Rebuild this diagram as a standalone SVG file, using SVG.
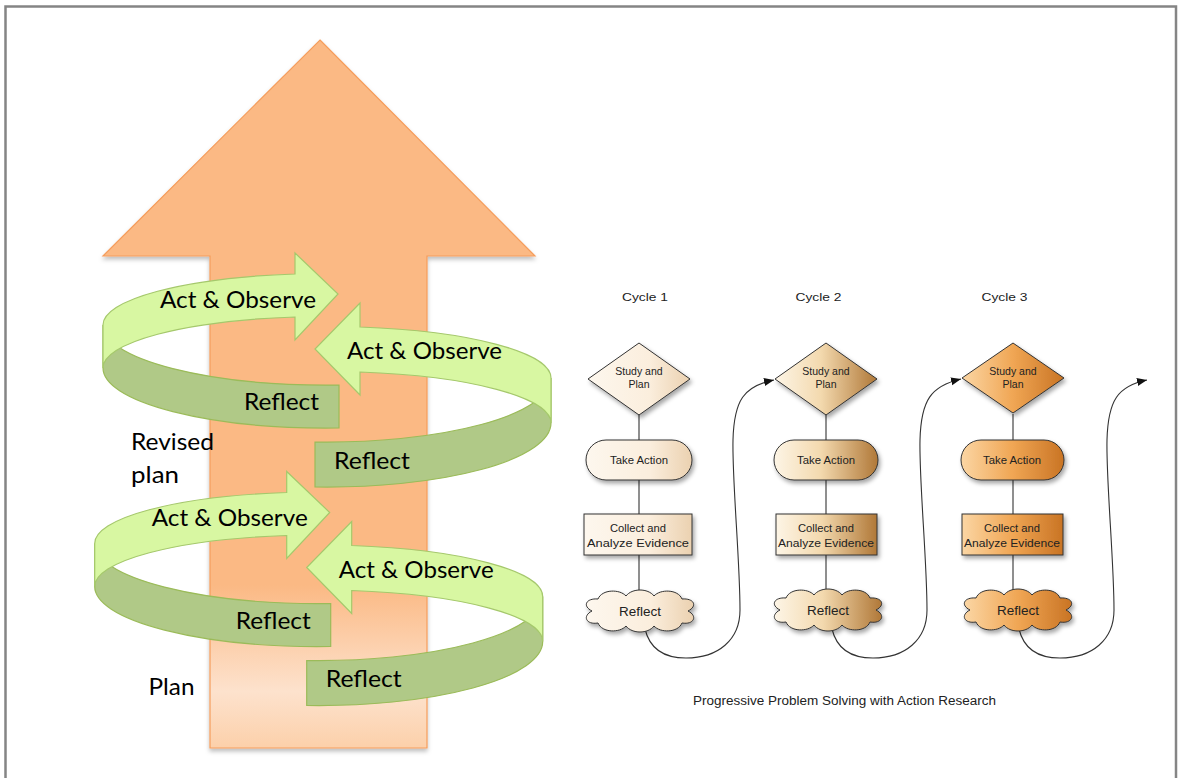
<svg xmlns="http://www.w3.org/2000/svg" width="1183" height="778" viewBox="0 0 1183 778">
<defs>
<style>
.lt{fill:#d8f7a2;stroke:#a5c86c;stroke-width:1.2}
.dk{fill:#b0c987;stroke:#9bbb59;stroke-width:1.2}
.gt{font-family:Lato,"Open Sans","Liberation Sans",sans-serif;font-size:23px;fill:#000}
.ft{font-family:"Liberation Sans",Arial,sans-serif;fill:#222;text-anchor:middle}
.st{stroke:#333;stroke-width:1;}
.ln{stroke:#333;stroke-width:1.1;fill:none}
</style>
<linearGradient id="ag" gradientUnits="userSpaceOnUse" x1="0" y1="40" x2="0" y2="748">
<stop offset="0" stop-color="#fbb984"/>
<stop offset="0.77" stop-color="#fbb984"/>
<stop offset="0.92" stop-color="#fde2cd"/>
<stop offset="1" stop-color="#fcd0aa"/>
</linearGradient>
<linearGradient id="g1" x1="0" y1="0" x2="1" y2="0">
<stop offset="0" stop-color="#fdf7ee"/>
<stop offset="0.6" stop-color="#fbeedd"/>
<stop offset="1" stop-color="#ebd1b0"/>
</linearGradient>
<linearGradient id="g2" x1="0" y1="0" x2="1" y2="0">
<stop offset="0" stop-color="#fdf5e6"/>
<stop offset="0.45" stop-color="#f3d9ae"/>
<stop offset="1" stop-color="#b07838"/>
</linearGradient>
<linearGradient id="g3" x1="0" y1="0" x2="1" y2="0">
<stop offset="0" stop-color="#fbd6a4"/>
<stop offset="0.5" stop-color="#f0a654"/>
<stop offset="1" stop-color="#c97424"/>
</linearGradient>
<filter id="sh" x="-20%" y="-20%" width="150%" height="160%">
<feDropShadow dx="2" dy="3" stdDeviation="2.2" flood-color="#000" flood-opacity="0.35"/>
</filter>
<filter id="ash" x="-10%" y="-5%" width="120%" height="110%">
<feDropShadow dx="0" dy="3" stdDeviation="2" flood-color="#000" flood-opacity="0.25"/>
</filter>
<marker id="ah" markerUnits="userSpaceOnUse" markerWidth="12" markerHeight="10" refX="10" refY="4" orient="auto">
<path d="M0,0 L10,4 L0,8 Z" fill="#111"/>
</marker>
<path id="cloud" d="M -42 -12 C -38 -22 -20 -22 -14 -15 C -8 -23 8 -23 14 -15 C 20 -22 38 -22 42 -12 C 54 -13 58 -5 48 0 C 58 5 54 14 42 12 C 38 22 20 22 14 15 C 8 23 -8 23 -14 15 C -20 22 -38 22 -42 12 C -54 14 -58 5 -48 0 C -58 -5 -54 -13 -42 -12 Z"/>
</defs>

<rect x="0" y="0" width="1183" height="778" fill="#ffffff"/>
<rect id="frame" x="5.5" y="6.5" width="1170.5" height="800" fill="none" stroke="#858585" stroke-width="2.5"/>

<g id="big-arrow">
<path d="M 320 40 L 535 256 L 427 256 L 427 748 L 210 748 L 210 256 L 103 256 Z" fill="url(#ag)" stroke="#f59d5c" stroke-width="1.2" filter="url(#ash)"/>
</g>

<g id="spiral-upper">
<g id="reflect-upper-left">
<path class="dk" d="M 103 325 A 224 60 0 0 0 339 385 L 339 428 A 224 60 0 0 1 103 368 Z"/>
<text class="gt" x="244" y="410" textLength="75" lengthAdjust="spacingAndGlyphs">Reflect</text>
</g>
<g id="act-upper-left">
<path class="lt" d="M 295 274 A 224 51.5 0 0 0 103 325 L 103 368 A 224 51.5 0 0 1 295 317 L 295 340 L 338 294 L 295 253 Z"/>
<text class="gt" x="160" y="307.5" textLength="156" lengthAdjust="spacingAndGlyphs">Act &amp; Observe</text>
</g>
<g id="reflect-upper-right">
<path class="dk" d="M 551 378 A 224 64 0 0 1 315 442 L 315 487 A 224 64 0 0 0 551 423 Z"/>
<text class="gt" x="334" y="468.5" textLength="76" lengthAdjust="spacingAndGlyphs">Reflect</text>
</g>
<g id="act-upper-right">
<path class="lt" d="M 360 327 A 224 51.6 0 0 1 551 378 L 551 423 A 224 51.6 0 0 0 360 372 L 360 395 L 315 349 L 360 303 Z"/>
<text class="gt" x="347" y="359" textLength="155" lengthAdjust="spacingAndGlyphs">Act &amp; Observe</text>
</g>
</g>

<g id="spiral-lower" transform="translate(-8.3,218.5)">
<g id="reflect-lower-left">
<path class="dk" d="M 103 325 A 224 60 0 0 0 339 385 L 339 428 A 224 60 0 0 1 103 368 Z"/>
<text class="gt" x="244" y="410" textLength="75" lengthAdjust="spacingAndGlyphs">Reflect</text>
</g>
<g id="act-lower-left">
<path class="lt" d="M 295 274 A 224 51.5 0 0 0 103 325 L 103 368 A 224 51.5 0 0 1 295 317 L 295 340 L 338 294 L 295 253 Z"/>
<text class="gt" x="160" y="307.5" textLength="156" lengthAdjust="spacingAndGlyphs">Act &amp; Observe</text>
</g>
<g id="reflect-lower-right">
<path class="dk" d="M 551 378 A 224 64 0 0 1 315 442 L 315 487 A 224 64 0 0 0 551 423 Z"/>
<text class="gt" x="334" y="468.5" textLength="76" lengthAdjust="spacingAndGlyphs">Reflect</text>
</g>
<g id="act-lower-right">
<path class="lt" d="M 360 327 A 224 51.6 0 0 1 551 378 L 551 423 A 224 51.6 0 0 0 360 372 L 360 395 L 315 349 L 360 303 Z"/>
<text class="gt" x="347" y="359" textLength="155" lengthAdjust="spacingAndGlyphs">Act &amp; Observe</text>
</g>
</g>

<g id="label-revised-plan">
<text class="gt" x="131" y="450" textLength="83" lengthAdjust="spacingAndGlyphs">Revised</text>
<text class="gt" x="131" y="482.5" textLength="48" lengthAdjust="spacingAndGlyphs">plan</text>
</g>
<g id="label-plan">
<text class="gt" x="148.5" y="695" textLength="46" lengthAdjust="spacingAndGlyphs">Plan</text>
</g>

<g id="connectors">
<line class="ln" x1="639" y1="414" x2="639" y2="440"/>
<line class="ln" x1="639" y1="480" x2="639" y2="514"/>
<line class="ln" x1="639" y1="555" x2="639" y2="594"/>
<line class="ln" x1="826" y1="414" x2="826" y2="440"/>
<line class="ln" x1="826" y1="480" x2="826" y2="514"/>
<line class="ln" x1="826" y1="555" x2="826" y2="594"/>
<line class="ln" x1="1013" y1="414" x2="1013" y2="440"/>
<line class="ln" x1="1013" y1="480" x2="1013" y2="514"/>
<line class="ln" x1="1013" y1="555" x2="1013" y2="594"/>
<path class="ln" marker-end="url(#ah)" d="M 645 629 C 650 650, 666 658, 686 658 C 718 658, 740 640, 740 610 C 740 560, 732 480, 733 440 C 734 400, 744 386, 774 380"/>
<path class="ln" marker-end="url(#ah)" d="M 832 629 C 837 650, 853 658, 873 658 C 905 658, 927 640, 927 610 C 927 560, 919 480, 920 440 C 921 400, 931 386, 961 379"/>
<path class="ln" marker-end="url(#ah)" d="M 1019 629 C 1024 650, 1040 658, 1060 658 C 1092 658, 1114 640, 1114 610 C 1114 560, 1106 480, 1107 440 C 1108 400, 1118 386, 1147 380"/>
</g>

<g id="cycle1-label"><text class="ft" x="645" y="300.5" font-size="11.5" textLength="46" lengthAdjust="spacingAndGlyphs">Cycle 1</text></g>
<g id="cycle2-label"><text class="ft" x="818.5" y="300.5" font-size="11.5" textLength="46" lengthAdjust="spacingAndGlyphs">Cycle 2</text></g>
<g id="cycle3-label"><text class="ft" x="1004.5" y="300.5" font-size="11.5" textLength="46" lengthAdjust="spacingAndGlyphs">Cycle 3</text></g>

<g id="c1-study">
<path class="st" fill="url(#g1)" filter="url(#sh)" d="M 639 343 L 690 379 L 639 415 L 588 379 Z"/>
<text class="ft" x="639" y="375" font-size="10.5">Study and</text>
<text class="ft" x="639" y="388" font-size="10.5">Plan</text>
</g>
<g id="c1-action">
<rect class="st" fill="url(#g1)" filter="url(#sh)" x="586" y="440" width="106" height="40" rx="20"/>
<text class="ft" x="639" y="464" font-size="10.5" textLength="58" lengthAdjust="spacingAndGlyphs">Take Action</text>
</g>
<g id="c1-collect">
<rect class="st" fill="url(#g1)" filter="url(#sh)" x="584" y="514" width="108" height="41"/>
<text class="ft" x="638" y="532" font-size="11" textLength="56" lengthAdjust="spacingAndGlyphs">Collect and</text>
<text class="ft" x="638" y="546.5" font-size="11" textLength="102" lengthAdjust="spacingAndGlyphs">Analyze Evidence</text>
</g>
<g id="c1-reflect">
<use href="#cloud" transform="translate(640,611)" fill="url(#g1)" stroke="#333" stroke-width="1" filter="url(#sh)"/>
<text class="ft" x="640" y="615.5" font-size="12.5" textLength="42" lengthAdjust="spacingAndGlyphs">Reflect</text>
</g>

<g id="c2-study">
<path class="st" fill="url(#g2)" filter="url(#sh)" d="M 826 343 L 877 379 L 826 415 L 775 379 Z"/>
<text class="ft" x="826" y="375" font-size="10.5">Study and</text>
<text class="ft" x="826" y="388" font-size="10.5">Plan</text>
</g>
<g id="c2-action">
<rect class="st" fill="url(#g2)" filter="url(#sh)" x="774" y="440" width="104" height="40" rx="20"/>
<text class="ft" x="826" y="464" font-size="10.5" textLength="58" lengthAdjust="spacingAndGlyphs">Take Action</text>
</g>
<g id="c2-collect">
<rect class="st" fill="url(#g2)" filter="url(#sh)" x="776" y="514" width="101" height="41"/>
<text class="ft" x="826" y="532" font-size="11" textLength="56" lengthAdjust="spacingAndGlyphs">Collect and</text>
<text class="ft" x="826" y="546.5" font-size="11" textLength="96" lengthAdjust="spacingAndGlyphs">Analyze Evidence</text>
</g>
<g id="c2-reflect">
<use href="#cloud" transform="translate(828,610)" fill="url(#g2)" stroke="#333" stroke-width="1" filter="url(#sh)"/>
<text class="ft" x="828" y="614.5" font-size="12.5" textLength="42" lengthAdjust="spacingAndGlyphs">Reflect</text>
</g>

<g id="c3-study">
<path class="st" fill="url(#g3)" filter="url(#sh)" d="M 1013 343 L 1064 378 L 1013 413 L 962 378 Z"/>
<text class="ft" x="1013" y="375" font-size="10.5">Study and</text>
<text class="ft" x="1013" y="388" font-size="10.5">Plan</text>
</g>
<g id="c3-action">
<rect class="st" fill="url(#g3)" filter="url(#sh)" x="961" y="440" width="103" height="40" rx="20"/>
<text class="ft" x="1012" y="464" font-size="10.5" textLength="58" lengthAdjust="spacingAndGlyphs">Take Action</text>
</g>
<g id="c3-collect">
<rect class="st" fill="url(#g3)" filter="url(#sh)" x="962" y="514" width="101" height="41"/>
<text class="ft" x="1012" y="532" font-size="11" textLength="56" lengthAdjust="spacingAndGlyphs">Collect and</text>
<text class="ft" x="1012" y="546.5" font-size="11" textLength="96" lengthAdjust="spacingAndGlyphs">Analyze Evidence</text>
</g>
<g id="c3-reflect">
<use href="#cloud" transform="translate(1018,610)" fill="url(#g3)" stroke="#333" stroke-width="1" filter="url(#sh)"/>
<text class="ft" x="1018" y="614.5" font-size="12.5" textLength="42" lengthAdjust="spacingAndGlyphs">Reflect</text>
</g>

<g id="caption">
<text class="ft" x="844.5" y="705" font-size="12.5" textLength="303" lengthAdjust="spacingAndGlyphs">Progressive Problem Solving with Action Research</text>
</g>
</svg>
